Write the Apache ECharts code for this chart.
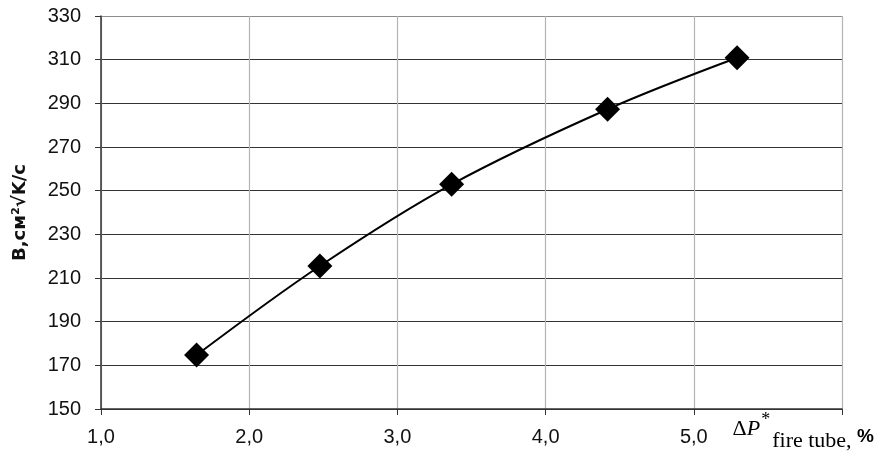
<!DOCTYPE html>
<html>
<head>
<meta charset="utf-8">
<script src="https://cdn.jsdelivr.net/npm/echarts@6/dist/echarts.min.js"></script>
<style>html,body{margin:0;padding:0;background:#fff}#c{width:884px;height:457px}</style>
</head>
<body>
<div id="c"></div>
<script>
const xValues = [1.645, 2.477, 3.366, 4.418, 5.292];
const yValues = [174.7, 215.5, 252.9, 287.3, 310.9];
const xTicks = { min: 1, max: 6, interval: 1 };
const yTicks = { min: 150, max: 330, interval: 20 };
const yAxisTitle = 'B,см²√K/с';

const chart = echarts.init(document.getElementById('c'), null, { renderer: 'canvas' });
const hColors = ['#333','#333','#333','#333','#333','#333','#333','#333','#333','#8c8c8c'];
chart.setOption({
  animation: false,
  backgroundColor: '#ffffff',
  grid: { left: 101, right: 42, top: 16, bottom: 48, containLabel: false },
  xAxis: {
    type: 'value',
    min: xTicks.min, max: xTicks.max, interval: xTicks.interval,
    axisLine: { show: true, onZero: false, lineStyle: { color: '#333', width: 1.5 } },
    axisTick: { show: true, length: 6, lineStyle: { color: '#333', width: 1 } },
    axisLabel: {
      margin: 18,
      fontFamily: 'Liberation Sans', fontSize: 20, color: '#111',
      formatter: v => (Math.abs(v - 6) < 1e-9 ? '' : v.toFixed(1).replace('.', ','))
    },
    splitLine: { show: true, lineStyle: { color: '#b4b4b4', width: 1.2 } },
    name: '{d|Δ}{p|P}{s|*}{f|fire tube}{c|, }{pc|%}',
    nameLocation: 'end',
    nameGap: 32,
    nameTextStyle: {
      align: 'right',
      verticalAlign: 'top',
      padding: [2, 0, 0, 0],
      rich: {
        d:  { fontFamily: 'Liberation Serif', fontSize: 22, color: '#000', verticalAlign: 'bottom', padding: [0, 0, 12, 0] },
        p:  { fontFamily: 'Liberation Serif', fontStyle: 'italic', fontSize: 22, color: '#000', verticalAlign: 'bottom', padding: [0, 1, 12, 0] },
        s:  { fontFamily: 'Liberation Serif', fontSize: 18, color: '#000', verticalAlign: 'bottom', padding: [0, 2, 23, 0] },
        f:  { fontFamily: 'Liberation Serif', fontSize: 22, color: '#000', verticalAlign: 'bottom', padding: [0, 0, 0, 0] },
        c:  { fontFamily: 'Liberation Serif', fontSize: 22, color: '#000', verticalAlign: 'bottom', padding: [0, 0, 0, 0] },
        pc: { fontFamily: 'Liberation Sans', fontWeight: 'bold', fontSize: 19, color: '#000', verticalAlign: 'bottom', padding: [0, 0, 6, 0] }
      }
    }
  },
  yAxis: {
    type: 'value',
    min: yTicks.min, max: yTicks.max, interval: yTicks.interval,
    axisLine: { show: true, lineStyle: { color: '#333', width: 1.5 } },
    axisTick: { show: true, length: 6, lineStyle: { color: '#333', width: 1 } },
    axisLabel: { margin: 20, fontFamily: 'Liberation Sans', fontSize: 20, color: '#111' },
    splitLine: { show: true, lineStyle: { color: hColors, width: 1.2 } },
    name: yAxisTitle,
    nameLocation: 'middle',
    nameGap: 72,
    nameRotate: 90,
    nameTextStyle: { fontFamily: 'DejaVu Sans', fontWeight: 'bold', fontSize: 18, color: '#111' }
  },
  series: [{
    type: 'line',
    data: xValues.map((x, i) => [x, yValues[i]]),
    smooth: 0.35,
    symbol: 'diamond',
    symbolSize: 25,
    showAllSymbol: true,
    itemStyle: { color: '#000' },
    lineStyle: { color: '#000', width: 2 },
    z: 5
  }]
});
</script>
</body>
</html>
